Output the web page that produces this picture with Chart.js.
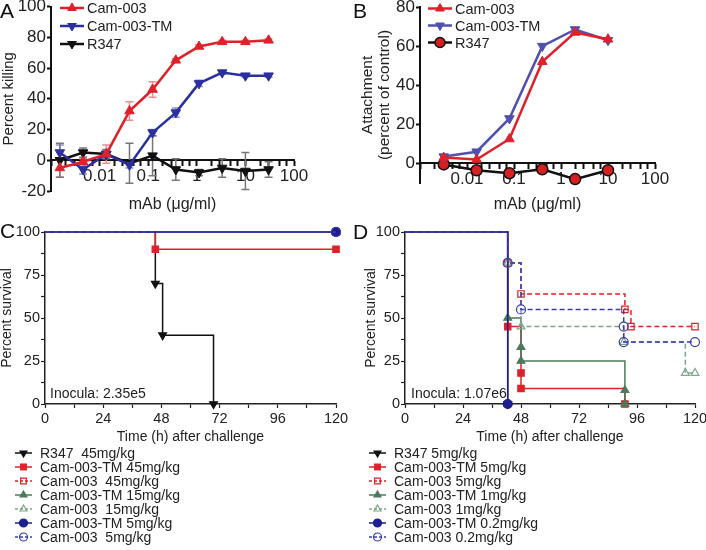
<!DOCTYPE html>
<html>
<head>
<meta charset="utf-8">
<script src="https://cdn.jsdelivr.net/npm/chart.js@4.4.1/dist/chart.umd.min.js"></script>
<style>
  body { margin: 0; background: #fff; }
  #fig { position: relative; width: 706px; height: 550px; overflow: hidden; font-family: "Liberation Sans", Arial, sans-serif; color: #222; }
  #fig canvas.plot { position: absolute; }
  .letter { position: absolute; font-size: 21px; line-height: 1; color: #111; }
  .legend { position: absolute; }
  .legend .row { display: flex; align-items: center; white-space: pre; }
  .legend canvas { display: block; }
</style>
</head>
<body>
<div id="fig">
  <canvas id="chartA" class="plot" width="353" height="215" style="left:0;top:0"></canvas>
  <canvas id="chartB" class="plot" width="353" height="215" style="left:353px;top:0"></canvas>
  <canvas id="chartC" class="plot" width="353" height="226" style="left:0;top:220px"></canvas>
  <canvas id="chartD" class="plot" width="353" height="226" style="left:353px;top:220px"></canvas>
  <div class="letter" style="left:0;top:0">A</div>
  <div class="letter" style="left:353px;top:0">B</div>
  <div class="letter" style="left:0;top:220px">C</div>
  <div class="letter" style="left:353px;top:221px">D</div>
  <div id="legA" class="legend" style="left:60px;top:-1px;font-size:14.5px"></div>
  <div id="legB" class="legend" style="left:428px;top:0;font-size:14.5px"></div>
  <div id="legC" class="legend" style="left:15px;top:446px;font-size:14px"></div>
  <div id="legD" class="legend" style="left:369px;top:446px;font-size:14px"></div>
</div>
<script>
Chart.defaults.font.family = '"Liberation Sans", Arial, sans-serif';
Chart.defaults.color = '#222';

/* A: killing vs mAb concentration */
const concA = [0.00152, 0.00457, 0.0137, 0.0412, 0.123, 0.37, 1.11, 3.33, 10, 30];
const killCam = [-5, -1, 4, 32, 46, 65, 74, 77, 77, 78];
const killCamErr = [6, 2, 6, 6, 5, 1, 1, 1, 1, 1];
const killTM = [5, -6, 4, -3, 18, 31, 50, 57, 55, 55];
const killTMErr = [5, 3, 2, 2, 2, 3, 2, 1, 1, 1];
const killR347 = [0, 5, 4, -2, 3, -6, -8, -5, -7, -6];
const killR347Err = [11, 3, 3, 13, 13, 7, 2, 6, 12, 5];
const killTicks = [-20, 0, 20, 40, 60, 80, 100];

/* B: attachment vs mAb concentration */
const concB = [0.0032, 0.016, 0.08, 0.4, 2, 10];
const attachCam = [3, 2, 12.5, 52, 67, 63.5];
const attachTM = [3.5, 6, 23, 60, 68.5, 63];
const attachR347 = [-0.5, -3.5, -5, -3, -8, -3.5];
const attachTicks = [0, 20, 40, 60, 80];

/* log axis ticks shared by A and B */
const logMajor = [0.01, 0.1, 1, 10, 100];
const logMinor = [0.001, 0.002, 0.003, 0.005, 0.007, 0.02, 0.03, 0.05, 0.07, 0.2, 0.3, 0.5, 0.7, 2, 3, 5, 7, 20, 30, 50, 70];

/* C: survival, inocula 2.35e5 */
const namesC = ['R347  45mg/kg', 'Cam-003-TM 45mg/kg', 'Cam-003  45mg/kg', 'Cam-003-TM 15mg/kg', 'Cam-003  15mg/kg', 'Cam-003-TM 5mg/kg', 'Cam-003  5mg/kg'];
const timeC_R347 = [0, 45.5, 48.5, 69.5];
const survC_R347 = [100, 70, 40, 0];
const timeC_TM45 = [0, 45.5, 120];
const survC_TM45 = [100, 90, 90];
const timeC_Cam45 = [0, 120];
const survC_Cam45 = [100, 100];
const timeC_TM15 = [0, 120];
const survC_TM15 = [100, 100];
const timeC_Cam15 = [0, 120];
const survC_Cam15 = [100, 100];
const timeC_TM5 = [0, 120];
const survC_TM5 = [100, 100];
const timeC_Cam5 = [0, 120];
const survC_Cam5 = [100, 100];

/* D: survival, inocula 1.07e6 */
const namesD = ['R347 5mg/kg', 'Cam-003-TM 5mg/kg', 'Cam-003 5mg/kg', 'Cam-003-TM 1mg/kg', 'Cam-003 1mg/kg', 'Cam-003-TM 0.2mg/kg', 'Cam-003 0.2mg/kg'];
const timeD_R347 = [0, 42.5];
const survD_R347 = [100, 0];
const timeD_TM5 = [0, 42.5, 48, 48, 91];
const survD_TM5 = [100, 45, 18, 9, 0];
const timeD_Cam5 = [0, 42.5, 48, 91, 93.5, 120];
const survD_Cam5 = [100, 82, 64, 55, 45, 45];
const timeD_TM1 = [0, 42.5, 48, 48, 91, 91];
const survD_TM1 = [100, 50, 33, 25, 8, 0];
const timeD_Cam1 = [0, 42.5, 48, 90.5, 116, 120];
const survD_Cam1 = [100, 82, 45, 36, 18, 18];
const timeD_TM02 = [0, 42.5];
const survD_TM02 = [100, 0];
const timeD_Cam02 = [0, 42.5, 48, 90.5, 90.5, 120];
const survD_Cam02 = [100, 82, 55, 45, 36, 36];

const timeTicks = [0, 12, 24, 36, 48, 60, 72, 84, 96, 108, 120];
const survTicks = [0, 12.5, 25, 37.5, 50, 62.5, 75, 87.5, 100];

function pts(xs, ys) {
  return xs.map((v, i) => ({x: v, y: ys[i]}));
}

/* error bars drawn through the chart's own scales */
const errorBars = {
  id: 'errorBars',
  beforeDatasetsDraw(chart) {
    const ctx = chart.ctx;
    const xs = chart.scales.x, ys = chart.scales.y;
    chart.data.datasets.forEach(ds => {
      if (!ds.errors) return;
      ctx.save();
      ctx.strokeStyle = ds.errorColor;
      ctx.lineWidth = 1.5;
      ds.data.forEach((p, j) => {
        const e = ds.errors[j];
        const px = xs.getPixelForValue(p.x);
        const top = ys.getPixelForValue(p.y + e), bot = ys.getPixelForValue(p.y - e);
        ctx.beginPath();
        ctx.moveTo(px, top); ctx.lineTo(px, bot);
        ctx.moveTo(px - 4, top); ctx.lineTo(px + 4, top);
        ctx.moveTo(px - 4, bot); ctx.lineTo(px + 4, bot);
        ctx.stroke();
      });
      ctx.restore();
    });
  }
};

/* inoculum note in lower left of the plot */
const inocula = {
  id: 'inocula',
  afterDraw(chart, args, opts) {
    if (!opts.text) return;
    const ctx = chart.ctx;
    ctx.save();
    ctx.font = '14px "Liberation Sans", Arial, sans-serif';
    ctx.fillStyle = '#222';
    ctx.textBaseline = 'middle';
    ctx.fillText(opts.text, chart.chartArea.left + opts.dx, chart.chartArea.bottom - 10);
    ctx.restore();
  }
};

function doseScales(o) {
  const zeroPad = s => { s.paddingLeft = 0; s.paddingRight = 0; };
  return {
    x: {
      type: 'logarithmic', min: 0.001, max: 100,
      afterFit: s => { s.height = o.xHeight; zeroPad(s); },
      ticks: {display: false}, grid: {display: false}, border: {display: false},
      title: {display: true, text: 'mAb (μg/ml)', font: {size: 16, lineHeight: 1.1}, padding: {top: 0, bottom: o.titlePad}}
    },
    xt: {
      type: 'logarithmic', min: 0.001, max: 100, position: {y: 0},
      afterBuildTicks: s => { s.ticks = logMajor.concat(logMinor).sort((a, b) => a - b).map(v => ({value: v})); },
      afterFit: zeroPad,
      ticks: {callback: v => logMajor.includes(v) ? String(v) : '', font: {size: 17}, padding: 1, maxRotation: 0, autoSkip: false, color: '#222'},
      grid: {drawOnChartArea: false, tickLength: 5, color: '#111', tickWidth: 2},
      border: {color: '#111', width: 2}
    },
    y: {
      type: 'linear', min: o.yMin, max: o.yMax,
      afterBuildTicks: s => { s.ticks = o.yTicks.map(v => ({value: v})); },
      afterFit: s => { s.width = o.yWidth; s.paddingTop = 0; s.paddingBottom = 0; },
      ticks: {font: {size: 17}, padding: 1, color: '#222'},
      grid: {drawOnChartArea: false, tickLength: 4, color: '#111', tickWidth: 2},
      border: {color: '#111', width: 2},
      title: {display: true, text: o.yTitle, font: {size: o.yTitleSize, lineHeight: o.yTitleLH}, padding: {top: o.yTitlePad, bottom: 0}}
    }
  };
}

function survivalScales(o) {
  return {
    x: {
      type: 'linear', min: 0, max: 120,
      afterBuildTicks: s => { s.ticks = timeTicks.map(v => ({value: v})); },
      afterFit: s => { s.height = o.xHeight; s.paddingLeft = 0; s.paddingRight = 0; },
      ticks: {callback: v => v % 24 === 0 ? String(v) : '', font: {size: 14.5}, padding: 2, maxRotation: 0, autoSkip: false, color: '#222'},
      grid: {drawOnChartArea: false, tickLength: 4, color: '#222', tickWidth: 1.2},
      border: {color: '#222', width: 1.5},
      title: {display: true, text: 'Time (h) after challenge', font: {size: 14, lineHeight: 1}, padding: {top: 0, bottom: 2}}
    },
    y: {
      type: 'linear', min: 0, max: 100,
      afterBuildTicks: s => { s.ticks = survTicks.map(v => ({value: v})); },
      afterFit: s => { s.width = o.yWidth; s.paddingTop = 0; s.paddingBottom = 0; },
      ticks: {callback: v => v % 25 === 0 ? String(v) : '', font: {size: 14.5}, padding: 1, autoSkip: false, color: '#222'},
      grid: {drawOnChartArea: false, tickLength: 4, color: '#222', tickWidth: 1.2},
      border: {color: '#222', width: 1.5},
      title: {display: true, text: 'Percent survival', font: {size: 14, lineHeight: 1}, padding: {top: o.yTitlePad, bottom: 0}}
    }
  };
}

function doseSet(label, xs, ys, color, style, rot, extra) {
  return Object.assign({
    label: label, data: pts(xs, ys),
    borderColor: color, borderWidth: 2.5,
    pointStyle: style, pointRotation: rot, pointRadius: 5.5,
    pointBackgroundColor: color, pointBorderColor: color, pointBorderWidth: 1,
    clip: false
  }, extra || {});
}

/* Kaplan-Meier step curve: marker at each event, none at t = 0 */
function kmSet(label, xs, ys, color, style, filled, order, rot) {
  return {
    label: label, data: pts(xs, ys), stepped: true, order: order,
    borderColor: color, borderWidth: 1.5, borderDash: filled ? [] : [5, 3],
    pointStyle: style, pointRotation: rot || 0,
    pointRadius: c => c.dataIndex === 0 ? 0 : 4.5,
    pointBackgroundColor: filled ? color : 'rgba(0,0,0,0)',
    pointBorderColor: color, pointBorderWidth: 1.2,
    clip: false
  };
}

function baseOptions(scales, pad, extraPlugins) {
  return {
    responsive: false, animation: false,
    layout: {padding: pad},
    scales: scales,
    plugins: Object.assign({legend: {display: false}, tooltip: {enabled: false}}, extraPlugins || {})
  };
}

function htmlLegend(elId, chart, iconW, rowH, radius) {
  const box = document.getElementById(elId);
  chart.data.datasets.forEach(ds => {
    const row = document.createElement('div');
    row.className = 'row';
    row.style.height = rowH + 'px';
    const c = document.createElement('canvas');
    c.width = iconW; c.height = rowH;
    const g = c.getContext('2d');
    g.strokeStyle = ds.borderColor;
    g.lineWidth = ds.borderWidth;
    g.setLineDash(ds.borderDash && ds.borderDash.length ? [3, 2] : []);
    g.beginPath(); g.moveTo(0, rowH / 2); g.lineTo(iconW, rowH / 2); g.stroke();
    g.setLineDash([]);
    g.fillStyle = ds.pointBackgroundColor;
    g.strokeStyle = ds.pointBorderColor;
    g.lineWidth = ds.pointBorderWidth;
    Chart.helpers.drawPoint(g, {pointStyle: ds.pointStyle, rotation: ds.pointRotation || 0, radius: radius, borderWidth: ds.pointBorderWidth}, iconW / 2, rowH / 2);
    const t = document.createElement('span');
    t.textContent = ds.label;
    t.style.marginLeft = (iconW > 20 ? 3 : 8) + 'px';
    row.appendChild(c); row.appendChild(t);
    box.appendChild(row);
  });
}

/* ---- A ---- */
const chartA = new Chart(document.getElementById('chartA'), {
  type: 'line',
  data: {datasets: [
    doseSet('Cam-003', concA, killCam, '#e0202a', 'triangle', 0, {errors: killCamErr, errorColor: '#ec8d93'}),
    doseSet('Cam-003-TM', concA, killTM, '#2b2f9f', 'triangle', 180, {errors: killTMErr, errorColor: '#8d90cc'}),
    doseSet('R347', concA, killR347, '#111', 'triangle', 180, {errors: killR347Err, errorColor: '#777'})
  ]},
  options: baseOptions(doseScales({xHeight: 24, titlePad: 2, yMin: -20, yMax: 100, yTicks: killTicks, yWidth: 51, yTitle: 'Percent killing', yTitleSize: 15, yTitleLH: 1, yTitlePad: 1}),
    {top: 6, right: 59, left: 0, bottom: 0}),
  plugins: [errorBars]
});

/* ---- B ---- */
const chartB = new Chart(document.getElementById('chartB'), {
  type: 'line',
  data: {datasets: [
    doseSet('Cam-003', concB, attachCam, '#e0202a', 'triangle', 0),
    doseSet('Cam-003-TM', concB, attachTM, '#5050ae', 'triangle', 180),
    doseSet('R347', concB, attachR347, '#111', 'circle', 0, {pointBackgroundColor: '#d42020', pointBorderColor: '#111', pointBorderWidth: 1.5, pointRadius: 5.5})
  ]},
  options: baseOptions(doseScales({xHeight: 32, titlePad: 2, yMin: -10, yMax: 80, yTicks: attachTicks, yWidth: 67, yTitle: ['Attachment', '(percent of control)'], yTitleSize: 15.5, yTitleLH: 1.1, yTitlePad: 6}),
    {top: 6, right: 51, left: 0, bottom: 0})
});

/* ---- C ---- */
const chartC = new Chart(document.getElementById('chartC'), {
  type: 'line',
  data: {datasets: [
    kmSet(namesC[0], timeC_R347, survC_R347, '#111', 'triangle', true, 7, 180),
    kmSet(namesC[1], timeC_TM45, survC_TM45, '#e0202a', 'rect', true, 6),
    kmSet(namesC[2], timeC_Cam45, survC_Cam45, '#e0202a', 'rect', false, 5),
    kmSet(namesC[3], timeC_TM15, survC_TM15, '#4c7a5a', 'triangle', true, 4),
    kmSet(namesC[4], timeC_Cam15, survC_Cam15, '#7ea68a', 'triangle', false, 3),
    kmSet(namesC[5], timeC_TM5, survC_TM5, '#1d1f8c', 'circle', true, 2),
    kmSet(namesC[6], timeC_Cam5, survC_Cam5, '#3a3cb2', 'circle', false, 1)
  ]},
  options: baseOptions(survivalScales({xHeight: 42, yWidth: 45, yTitlePad: 0}),
    {top: 12, right: 17, left: 0, bottom: 0},
    {inocula: {text: 'Inocula: 2.35e5', dx: 5}}),
  plugins: [inocula]
});

/* ---- D ---- */
const chartD = new Chart(document.getElementById('chartD'), {
  type: 'line',
  data: {datasets: [
    kmSet(namesD[0], timeD_R347, survD_R347, '#111', 'triangle', true, 7, 180),
    kmSet(namesD[1], timeD_TM5, survD_TM5, '#e0202a', 'rect', true, 6),
    kmSet(namesD[2], timeD_Cam5, survD_Cam5, '#e0202a', 'rect', false, 5),
    kmSet(namesD[3], timeD_TM1, survD_TM1, '#4c7a5a', 'triangle', true, 4),
    kmSet(namesD[4], timeD_Cam1, survD_Cam1, '#7ea68a', 'triangle', false, 3),
    kmSet(namesD[5], timeD_TM02, survD_TM02, '#1d1f8c', 'circle', true, 2),
    kmSet(namesD[6], timeD_Cam02, survD_Cam02, '#3a3cb2', 'circle', false, 1)
  ]},
  options: baseOptions(survivalScales({xHeight: 42, yWidth: 52, yTitlePad: 11}),
    {top: 12, right: 11, left: 0, bottom: 0},
    {inocula: {text: 'Inocula: 1.07e6', dx: 6}}),
  plugins: [inocula]
});

htmlLegend('legA', chartA, 24, 18, 5);
htmlLegend('legB', chartB, 24, 17, 5);
htmlLegend('legC', chartC, 17, 14, 4);
htmlLegend('legD', chartD, 17, 14, 4);
</script>
</body>
</html>
